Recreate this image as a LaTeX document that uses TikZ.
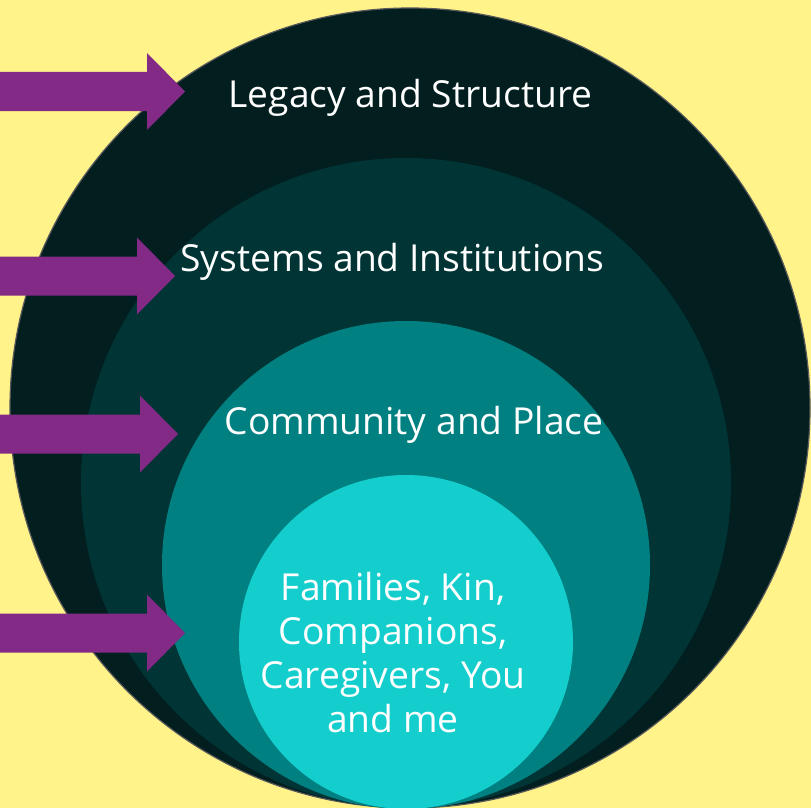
\documentclass[tikz,border=0pt]{standalone}
\usepackage{fontspec}
\setmainfont{Open Sans}
\definecolor{bgyellow}{HTML}{FFF38A}
\definecolor{ringA}{HTML}{021E1F}
\definecolor{ringB}{HTML}{003435}
\definecolor{ringC}{HTML}{008080}
\definecolor{ringD}{HTML}{14CDCD}
\definecolor{rimgray}{HTML}{5A5A5A}
\definecolor{arrowpurple}{HTML}{832A86}
\tikzset{
  lbl/.style={text=white, font=\fontsize{37.2}{44}\selectfont, anchor=base, inner sep=0pt, align=center},
  bigarrow/.style={fill=arrowpurple, draw=none}
}
\newcommand{\purplearrow}[3]{% center y, head base x, tip x
  \fill[bigarrow] (0,#1-19.5) -- (#2,#1-19.5) -- (#2,#1-38.5) -- (#3,#1) -- (#2,#1+38.5) -- (#2,#1+19.5) -- (0,#1+19.5) -- cycle;
}
\begin{document}
\begin{tikzpicture}[x=1pt,y=-1pt]
  \fill[bgyellow] (0,0) rectangle (811,808);
  \useasboundingbox (0,0) rectangle (811,808);
  % rings
  \fill[ringA, draw=rimgray, line width=1.2pt] (410,408) circle[radius=400pt];
  \fill[ringB] (406,483) circle[radius=325pt];
  \fill[ringC] (406,565) circle[radius=244pt];
  \fill[ringD] (406,642) circle[radius=167pt];
  \coordinate (outer) at (410,408);
  \coordinate (systems) at (406,483);
  \coordinate (community) at (406,565);
  \coordinate (families) at (406,642);
  % arrows
  \purplearrow{91.5}{147}{185}
  \purplearrow{276}{137}{175}
  \purplearrow{434}{140}{178}
  \purplearrow{633}{147}{185}
  % labels
  \node[lbl] (tlegacy) at (410.5,107) {Legacy and Structure};
  \node[lbl] (tsystems) at (392.5,271.5) {Systems and Institutions};
  \node[lbl] (tcommunity) at (414,434.5) {Community and Place};
  \node[lbl] (tfam1) at (393,600) {Families, Kin,};
  \node[lbl] (tfam2) at (393,644) {Companions,};
  \node[lbl] (tfam3) at (393,688) {Caregivers, You};
  \node[lbl] (tfam4) at (393,732) {and me};
\end{tikzpicture}
\end{document}
